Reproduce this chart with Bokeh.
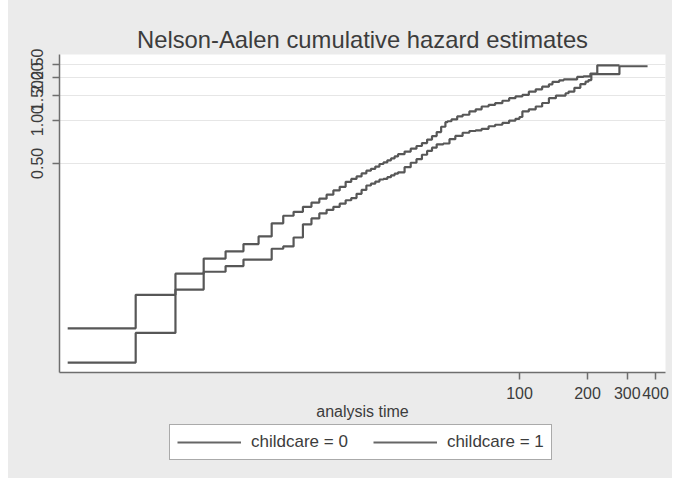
from bokeh.plotting import figure
from bokeh.models import (FixedTicker, PrintfTickFormatter, Legend, LegendItem,
                          Range1d, Spacer)
from bokeh.layouts import row, column
from bokeh.embed import file_html
from bokeh.resources import INLINE

# Nelson-Aalen cumulative hazard, step functions (analysis time, estimate)
t_cc0 = [1, 2, 3, 4, 5, 6, 7, 8, 9, 10, 11, 12, 13, 14, 15, 16, 17, 18, 19, 20,
         21, 22, 23, 24, 25, 26, 27, 28, 29, 31, 33, 35, 37, 39, 41, 43, 45, 47,
         48, 50, 53, 56, 60, 64, 68, 73, 78, 84, 90, 96, 103, 110, 118, 126, 135,
         140, 150, 157, 180, 192, 206, 221, 277]
h_cc0 = [0.0198, 0.0320, 0.0836, 0.1068, 0.1202, 0.1351, 0.1529, 0.1891, 0.2139,
         0.2281, 0.2471, 0.2647, 0.2822, 0.3010, 0.3224, 0.3420, 0.3706, 0.3889,
         0.4050, 0.4250, 0.4440, 0.4580, 0.4750, 0.4950, 0.5079, 0.5250, 0.5420,
         0.5600, 0.5801, 0.6050, 0.6350, 0.6628, 0.6950, 0.7350, 0.7777, 0.8300,
         0.9050, 0.9750, 0.9900, 1.0200, 1.0710, 1.1000, 1.1610, 1.2000, 1.2570,
         1.2900, 1.3270, 1.3800, 1.4380, 1.4800, 1.5160, 1.5990, 1.6600, 1.7320,
         1.8000, 1.8760, 1.9200, 1.9500, 2.0300, 2.0500, 2.1450, 2.4520, 2.4520]

t_cc1 = [1, 2, 3, 4, 5, 6, 8, 9, 10, 11, 12, 13, 14, 15, 16, 17, 18, 19, 20, 21,
         22, 23, 24, 25, 26, 27, 28, 29, 31, 33, 35, 37, 39, 41, 43, 46, 49, 52,
         56, 60, 64, 68, 73, 78, 84, 90, 96, 100, 103, 110, 118, 126, 135, 145,
         160, 165, 175, 186, 196, 202, 208, 277, 369]
h_cc1 = [0.0345, 0.0594, 0.0647, 0.0863, 0.0946, 0.1051, 0.1253, 0.1302, 0.1504,
         0.1862, 0.2049, 0.2220, 0.2350, 0.2471, 0.2600, 0.2750, 0.2850, 0.3050,
         0.3250, 0.3492, 0.3600, 0.3720, 0.3850, 0.3889, 0.4000, 0.4120, 0.4230,
         0.4328, 0.4700, 0.5050, 0.5356, 0.5750, 0.6117, 0.6450, 0.6809, 0.6900,
         0.7400, 0.7800, 0.8212, 0.8450, 0.8550, 0.8750, 0.9130, 0.9350, 0.9638,
         1.0000, 1.0300, 1.0600, 1.1610, 1.2000, 1.2570, 1.3300, 1.4380, 1.5000,
         1.5580, 1.6000, 1.7000, 1.8080, 1.8800, 1.9280, 2.1220, 2.4130, 2.4130]

x_ticks = [100, 200, 300, 400]
y_ticks = [0.5, 1.0, 1.5, 2.0, 2.5]
labels = ["childcare = 0", "childcare = 1"]

FONT = "Liberation Sans"
GRAY_BG = "#ebebeb"
TXT = "#3c3c3c"
AX = "#6e6e6e"
LINE = "#575757"

p = figure(width=664, height=422, x_axis_type="log", y_axis_type="log",
           x_range=Range1d(0.92, 443), y_range=Range1d(0.01686, 2.92),
           output_backend="svg", toolbar_location=None,
           min_border_left=51, min_border_right=7, min_border_top=54,
           min_border_bottom=46)

p.background_fill_color = "white"
p.border_fill_color = GRAY_BG
p.outline_line_color = None

p.title.text = "Nelson-Aalen cumulative hazard estimates"
p.title.align = "center"
p.title.text_font = FONT
p.title.text_font_size = "23.8px"
p.title.text_font_style = "normal"
p.title.text_color = TXT
p.title.standoff = 4

r0 = p.step(t_cc0, h_cc0, mode="after", line_color=LINE, line_width=2.2)
r1 = p.step(t_cc1, h_cc1, mode="after", line_color=LINE, line_width=2.2)

p.xgrid.grid_line_color = None
p.ygrid.grid_line_color = "#e6e6e6"
p.ygrid.grid_line_width = 1

for ax in (p.xaxis[0], p.yaxis[0]):
    ax.axis_line_color = AX
    ax.axis_line_width = 1.5
    ax.major_tick_line_color = AX
    ax.major_tick_line_width = 1.5
    ax.major_tick_in = 0
    ax.major_tick_out = 7
    ax.minor_tick_line_color = None
    ax.major_label_text_font = FONT
    ax.major_label_text_font_size = "16px"
    ax.major_label_text_color = TXT

p.xaxis.ticker = FixedTicker(ticks=x_ticks)
p.xaxis.formatter = PrintfTickFormatter(format="%d")
p.xaxis.major_label_standoff = 7
p.xaxis.axis_label = "analysis time"
p.xaxis.axis_label_text_font = FONT
p.xaxis.axis_label_text_font_size = "16px"
p.xaxis.axis_label_text_font_style = "normal"
p.xaxis.axis_label_text_color = TXT
p.xaxis.axis_label_standoff = 1

p.yaxis.ticker = FixedTicker(ticks=y_ticks)
p.yaxis.formatter = PrintfTickFormatter(format="%.2f")
p.yaxis.major_label_orientation = "vertical"
p.yaxis.major_label_standoff = 9

# legend strip below the graph (its frame is aligned with the graph's frame)
lg = figure(width=664, height=56, x_range=Range1d(-2, -1), y_range=Range1d(0, 1),
            output_backend="svg", toolbar_location=None,
            min_border_left=51, min_border_right=7, min_border_top=0,
            min_border_bottom=0)
lg.axis.visible = False
lg.grid.grid_line_color = None
lg.background_fill_color = GRAY_BG
lg.border_fill_color = GRAY_BG
lg.outline_line_color = None
k0 = lg.step(t_cc0, h_cc0, mode="after", line_color="#666666", line_width=2)
k1 = lg.step(t_cc1, h_cc1, mode="after", line_color="#666666", line_width=2)

legend = Legend(items=[LegendItem(label=labels[0], renderers=[k0]),
                       LegendItem(label=labels[1], renderers=[k1])],
                orientation="horizontal", location=(110, 18))
legend.label_text_font = FONT
legend.label_text_font_size = "17px"
legend.label_text_color = TXT
legend.glyph_width = 64
legend.glyph_height = 20
legend.label_standoff = 10
legend.spacing = 25
legend.padding = 7
legend.margin = 0
legend.border_line_color = "#555555"
legend.border_line_width = 1.5
legend.background_fill_color = "white"
legend.background_fill_alpha = 1
lg.add_layout(legend, "center")

graph = column(p, lg, spacing=0, styles={"background-color": GRAY_BG})
layout = row(Spacer(width=8, height=478), graph, spacing=0)

open("out.html", "w").write(file_html(layout, INLINE))
